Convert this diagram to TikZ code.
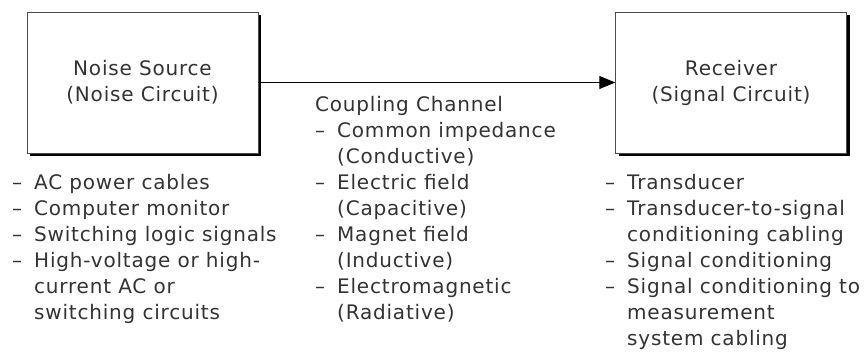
\documentclass[tikz,border=0pt]{standalone}
\usepackage{fontspec}
\setmainfont{DejaVu Sans}[LetterSpace=4.0]
\usetikzlibrary{arrows.meta,shadows}

\newcommand{\dashitem}[1]{\makebox[22pt][l]{–}#1}
\newcommand{\contline}[1]{\hspace*{22pt}#1}

\begin{document}
\begin{tikzpicture}[x=1pt,y=-1pt,
    every node/.style={text=black!80, font=\fontsize{20}{26}\selectfont},
    block/.style={draw=black!70, fill=white, minimum width=231pt, minimum height=141pt,
      align=center, inner sep=0pt,
      drop shadow={shadow xshift=3pt, shadow yshift=-3pt, opacity=1, fill=black}},
    itemlist/.style={anchor=base west, align=left, inner sep=0pt}]
    \useasboundingbox (0,0) rectangle (868,352);

    %Blocs
    \node[block] (source) at (142.5,82.5) {Noise Source\\(Noise Circuit)};
    \node[block] (receiver) at (731,82.5) {Receiver\\(Signal Circuit)};

    %Couplage
    \draw[line width=1pt, -{Triangle[length=16pt,width=13pt]}] (source) -- (receiver);

    %Listes (base = derniere ligne)
    \node[itemlist] (sources) at (12,320) {\dashitem{AC power cables}\\
      \dashitem{Computer monitor}\\
      \dashitem{Switching logic signals}\\
      \dashitem{High-voltage or high-}\\
      \contline{current AC or}\\
      \contline{switching circuits}};
    \node[itemlist] (channel) at (315,320) {Coupling Channel\\
      \dashitem{Common impedance}\\
      \contline{(Conductive)}\\
      \dashitem{Electric field}\\
      \contline{(Capacitive)}\\
      \dashitem{Magnet field}\\
      \contline{(Inductive)}\\
      \dashitem{Electromagnetic}\\
      \contline{(Radiative)}};
    \node[itemlist] (receivers) at (605,346) {\dashitem{Transducer}\\
      \dashitem{Transducer-to-signal}\\
      \contline{conditioning cabling}\\
      \dashitem{Signal conditioning}\\
      \dashitem{Signal conditioning to}\\
      \contline{measurement}\\
      \contline{system cabling}};
\end{tikzpicture}
\end{document}
